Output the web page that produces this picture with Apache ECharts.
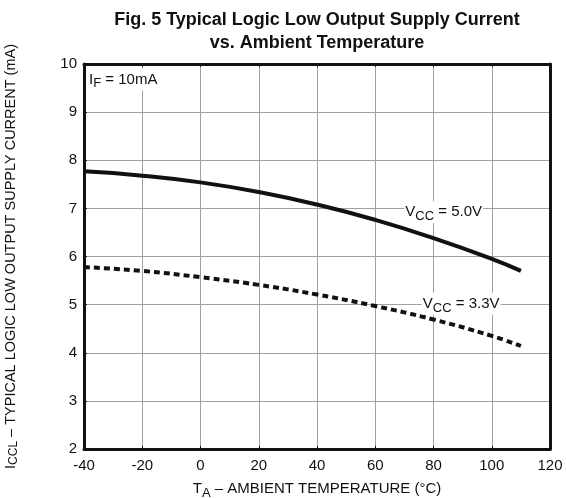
<!DOCTYPE html>
<html><head><meta charset="utf-8">
<script src="https://cdn.jsdelivr.net/npm/echarts@6/dist/echarts.min.js"></script>
<style>html,body{margin:0;padding:0;background:#fff}#c{width:566px;height:498px}</style>
</head><body><div id="c"></div>
<script>
var temps = [-40, -20, 0, 20, 40, 60, 80, 100, 110];
var vcc50 = [7.77, 7.68, 7.54, 7.34, 7.08, 6.76, 6.38, 5.95, 5.70];
var vcc33 = [5.78, 5.70, 5.57, 5.41, 5.21, 4.97, 4.69, 4.35, 4.14];
var xTicks = [-40, -20, 0, 20, 40, 60, 80, 100, 120];
var yTicks = [2, 3, 4, 5, 6, 7, 8, 9, 10];

var font = 'Liberation Sans, Arial, sans-serif';
var chart = echarts.init(document.getElementById('c'));
function pairs(xs, ys){ return xs.map(function(x,i){return [x, ys[i]];}); }
var sub = {fontSize: 13, fontFamily: font, color:'#111', padding:[9,0,0,0]};
var norm = {fontSize: 15, fontFamily: font, color:'#111'};
chart.setOption({
  animation: false,
  backgroundColor: '#fff',
  title: {
    text: 'Fig. 5 Typical Logic Low Output Supply Current\nvs. Ambient Temperature',
    left: 312, top: 4, textAlign: 'center',
    textStyle: {fontFamily: font, fontSize: 18, fontWeight: 'bold', color: '#111', lineHeight: 23}
  },
  grid: {left: 84, right: 16, top: 64, bottom: 49, containLabel: false, outerBoundsMode: 'none'},
  xAxis: [{
    type: 'value', min: -40, max: 120, interval: 20,
    axisLine: {show: true, onZero: false, lineStyle: {color: '#111', width: 3}},
    axisTick: {show: true, inside: true, length: 3, lineStyle: {color: '#111'}},
    axisLabel: {fontFamily: font, fontSize: 15, color: '#111', margin: 9,
      formatter: function(v){ return xTicks.indexOf(v) >= 0 ? String(v) : ''; }},
    splitLine: {show: true, lineStyle: {color: '#a0a0a0', width: 1}},
    name: '{n|T}{s|A}{n| – AMBIENT TEMPERATURE (°C)}',
    nameLocation: 'middle', nameGap: 29,
    nameTextStyle: {rich: {n: norm, s: sub}}
  }, {
    type: 'value', min: -40, max: 120, interval: 20, position: 'top',
    axisLine: {show: true, onZero: false, lineStyle: {color: '#111', width: 3}},
    axisTick: {show: true, inside: true, length: 3, lineStyle: {color: '#111'}},
    axisLabel: {show: false}, splitLine: {show: false}
  }],
  yAxis: [{
    type: 'value', min: 2, max: 10, interval: 1,
    axisLine: {show: true, onZero: false, lineStyle: {color: '#111', width: 3}},
    axisTick: {show: true, inside: true, length: 3, lineStyle: {color: '#111'}},
    axisLabel: {fontFamily: font, fontSize: 15, color: '#111', margin: 7,
      formatter: function(v){ return yTicks.indexOf(v) >= 0 ? String(v) : ''; }},
    splitLine: {show: true, lineStyle: {color: '#a0a0a0', width: 1}},
    name: '{n|I}{s|CCL}{n| – TYPICAL LOGIC LOW OUTPUT SUPPLY CURRENT (mA)}',
    nameLocation: 'middle', nameGap: 64, nameRotate: 90,
    nameTextStyle: {rich: {n: {fontSize: 14.5, fontFamily: font, color:'#111'}, s: {fontSize: 12, fontFamily: font, color:'#111', padding:[7,0,0,0]}}}
  }, {
    type: 'value', min: 2, max: 10, interval: 1, position: 'right',
    axisLine: {show: true, onZero: false, lineStyle: {color: '#111', width: 3}},
    axisTick: {show: false}, axisLabel: {show: false}, splitLine: {show: false}
  }],
  series: [{
    type: 'line', smooth: true, symbol: 'none',
    data: pairs(temps, vcc50),
    lineStyle: {color: '#111', width: 4},
    markPoint: {
      symbol: 'rect', symbolSize: 0,
      data: [{coord: [83.5, 6.92], label: {show: true, position: 'inside',
        formatter: '{n|V}{s|CC}{n| = 5.0V}', backgroundColor: '#fff', padding:[0,1,0,1],
        rich: {n: norm, s: sub}}},
        {coord: [-38.6, 9.68], label: {show: true, position: 'right', distance: 0,
        formatter: '{n|I}{s|F}{n| = 10mA}', backgroundColor: '#fff', padding:[0,1,0,1],
        rich: {n: norm, s: sub}}}]
    }
  }, {
    type: 'line', smooth: true, symbol: 'none',
    data: pairs(temps, vcc33),
    lineStyle: {color: '#111', width: 4, type: [6, 4]},
    markPoint: {
      symbol: 'rect', symbolSize: 0,
      data: [{coord: [89.5, 5.02], label: {show: true, position: 'inside',
        formatter: '{n|V}{s|CC}{n| = 3.3V}', backgroundColor: '#fff', padding:[0,1,0,1],
        rich: {n: norm, s: sub}}}]
    }
  }]
});
</script></body></html>
